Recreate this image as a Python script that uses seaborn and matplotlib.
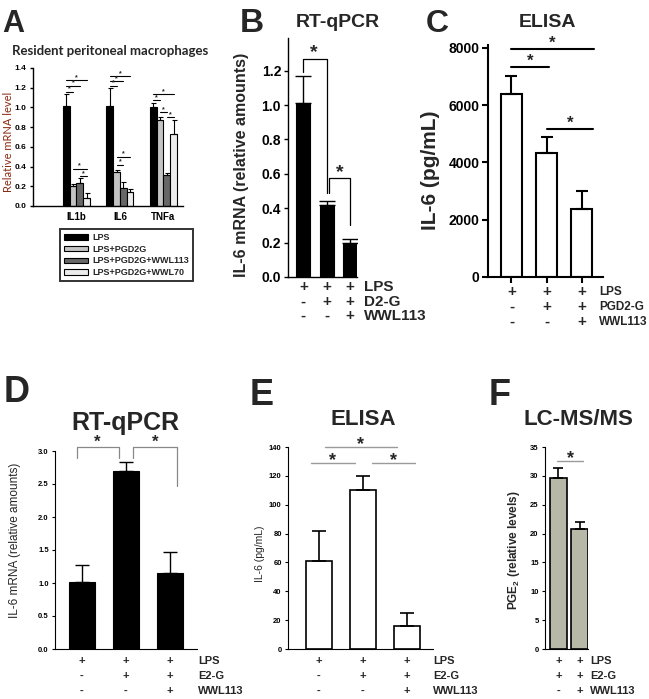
import matplotlib
matplotlib.use("Agg")
import matplotlib.pyplot as plt
import numpy as np
import pandas as pd
import seaborn as sns

W, H = 649, 699

# Panel A: resident peritoneal macrophages
A_GENES = ["IL1b", "IL6", "TNFa"]
A_TREATMENTS = ["LPS", "LPS+PGD2G", "LPS+PGD2G+WWL113", "LPS+PGD2G+WWL70"]
A_LPS = [1.01, 1.01, 1.00]
A_PGD2G = [0.20, 0.35, 0.87]
A_WWL113 = [0.23, 0.18, 0.31]
A_WWL70 = [0.08, 0.14, 0.73]
A_LPS_ERR = [0.13, 0.19, 0.05]
A_PGD2G_ERR = [0.02, 0.02, 0.03]
A_WWL113_ERR = [0.05, 0.06, 0.02]
A_WWL70_ERR = [0.05, 0.03, 0.14]
A_COLORS = ["#000000", "#c4c4c4", "#676767", "#ececec"]
# (bar i, bar j, height) per gene
A_SIG = [
    [(0, 1, 1.16), (0, 2, 1.22), (0, 3, 1.28), (2, 3, 0.30), (1, 3, 0.38)],
    [(0, 1, 1.22), (0, 2, 1.27), (0, 3, 1.32), (1, 2, 0.42), (1, 3, 0.50)],
    [(0, 1, 1.075), (0, 3, 1.135), (1, 2, 0.95), (2, 3, 0.90)],
]

# Panel B: RT-qPCR
B_MEANS = [1.01, 0.42, 0.20]
B_ERR = [0.16, 0.02, 0.02]
B_LPS = ["+", "+", "+"]
B_D2G = ["-", "+", "+"]
B_WWL = ["-", "-", "+"]
B_ROW_LABELS = ["LPS", "D2-G", "WWL113"]

# Panel C: ELISA
C_MEANS = [6380, 4330, 2380]
C_ERR = [650, 570, 620]
C_LPS = ["+", "+", "+"]
C_PGD2G = ["-", "+", "+"]
C_WWL = ["-", "-", "+"]
C_ROW_LABELS = ["LPS", "PGD2-G", "WWL113"]
C_SIG = [(0, 2.34, 7950), (0, 1.07, 7330), (1.0, 2.33, 5150)]

# Panel D: RT-qPCR
D_MEANS = [1.02, 2.69, 1.15]
D_ERR = [0.26, 0.14, 0.32]
D_LPS = ["+", "+", "+"]
D_E2G = ["-", "+", "+"]
D_WWL = ["-", "-", "+"]
D_ROW_LABELS = ["LPS", "E2-G", "WWL113"]

# Panel E: ELISA
E_MEANS = [61, 110, 16]
E_ERR = [21, 10, 9]
E_SIG = [(0.14, 1.77, 140), (-0.18, 0.82, 129), (1.2, 2.18, 129)]

# Panel F: LC-MS/MS
F_MEANS = [29.7, 20.8]
F_ERR = [1.6, 1.2]
F_LPS = ["+", "+"]
F_E2G = ["+", "+"]
F_WWL = ["-", "+"]

FONT = ["Liberation Sans", "DejaVu Sans"]


def add_ax(fig, left, top, right, bottom):
    ax = fig.add_axes([left / W, 1 - bottom / H, (right - left) / W, (bottom - top) / H])
    ax.px_box = (left, top, right, bottom)
    return ax


def ftext(fig, x, y, s, **kw):
    fig.text(x / W, 1 - y / H, s, **kw)


def style_axis(ax, lw, tick_fs, tick_len=3):
    sns.despine(ax=ax)
    for side in ["left", "bottom"]:
        ax.spines[side].set_linewidth(lw)
    ax.tick_params(axis="y", labelsize=tick_fs, width=lw, length=tick_len, pad=2)
    for lab in ax.get_yticklabels():
        lab.set_fontweight("bold")
    ax.set_xlabel("")


def bar_panel(ax, means, err, color, edge, width, lw, cap, elw):
    labels = [str(i) for i in range(len(means))]
    sns.barplot(x=labels, y=means, color=color, edgecolor=edge, linewidth=lw,
                width=width, errorbar=None, saturation=1, ax=ax)
    ax.errorbar(range(len(means)), means, yerr=[np.zeros(len(err)), err], fmt="none",
                ecolor="black", elinewidth=elw, capsize=cap, capthick=elw, zorder=1)


def sign_rows(ax, rows, labels, row_ys, label_x, fs, label_fs=None):
    left, top, right, bottom = ax.px_box
    label_fs = label_fs or fs
    for signs, label, ry in zip(rows, labels, row_ys):
        yy = (bottom - ry) / (bottom - top)
        for i, s in enumerate(signs):
            ax.text(i, yy, s, transform=ax.get_xaxis_transform(), ha="center", va="center",
                    fontsize=fs, fontweight="bold", clip_on=False)
        if label:
            ax.text((label_x - left) / (right - left), yy, label, transform=ax.transAxes,
                    ha="left", va="center", fontsize=label_fs, fontweight="bold", clip_on=False)


def sig_line(ax, x1, x2, y, color="black", lw=1.0, fs=10, dy=0):
    ax.plot([x1, x2], [y, y], color=color, lw=lw, clip_on=False)
    ax.text((x1 + x2) / 2, y + dy, "*", ha="center", va="bottom", fontsize=fs,
            fontweight="bold", clip_on=False)


def panel_a(fig):
    ax = add_ax(fig, 33, 68, 183, 206)
    rows = []
    for t, vals in zip(A_TREATMENTS, [A_LPS, A_PGD2G, A_WWL113, A_WWL70]):
        for g, v in zip(A_GENES, vals):
            rows.append({"gene": g, "treatment": t, "value": v})
    df = pd.DataFrame(rows)
    sns.barplot(data=df, x="gene", y="value", hue="treatment", hue_order=A_TREATMENTS,
                palette=A_COLORS, edgecolor="black", linewidth=0.8, width=0.62,
                errorbar=None, saturation=1, ax=ax)
    centers = []
    for cont, errs in zip(ax.containers, [A_LPS_ERR, A_PGD2G_ERR, A_WWL113_ERR, A_WWL70_ERR]):
        xs = [b.get_x() + b.get_width() / 2 for b in cont]
        ys = [b.get_height() for b in cont]
        centers.append(xs)
        ax.errorbar(xs, ys, yerr=[np.zeros(3), errs], fmt="none", ecolor="black",
                    elinewidth=0.8, capsize=1.8, capthick=0.8, zorder=1)
    for g, sigs in enumerate(A_SIG):
        for i, j, h in sigs:
            sig_line(ax, centers[i][g], centers[j][g], h, lw=0.8, fs=5, dy=-0.01)
    ax.set_ylim(0, 1.4)
    ax.set_xlim(-1.0, 2.45)
    ax.set_yticks(np.arange(0, 1.41, 0.2))
    ax.set_yticklabels([f"{v:.1f}" for v in np.arange(0, 1.41, 0.2)])
    style_axis(ax, 1.0, 6, 2.5)
    ax.tick_params(axis="x", length=0, labelsize=7, pad=4)
    for lab in ax.get_xticklabels():
        lab.set_fontweight("bold")
    ax.set_ylabel("")
    ftext(fig, 9, 142, "Relative mRNA level", fontsize=8, color="#8b2a10", family="Lato",
          rotation=90, ha="center", va="center")
    handles, labels = ax.get_legend_handles_labels()
    leg = ax.legend(handles, labels, loc="upper left", bbox_to_anchor=(60 / W, 1 - 229 / H),
                    bbox_transform=fig.transFigure, frameon=True, fancybox=False,
                    edgecolor="black", prop={"weight": "bold", "size": 6.5},
                    handlelength=2.6, handleheight=0.55, labelspacing=0.3, borderpad=0.45,
                    handletextpad=0.5, borderaxespad=0)
    leg.get_frame().set_linewidth(1.4)
    ftext(fig, 12, 55, "Resident peritoneal macrophages", fontsize=9.5, fontweight="bold",
          family="Lato")
    ftext(fig, 2, 32, "A", fontsize=22, fontweight="bold")


def panel_b(fig):
    ax = add_ax(fig, 288, 38, 357, 277)
    bar_panel(ax, B_MEANS, B_ERR, "black", "black", 0.6, 0.8, 5.5, 1.0)
    ax.set_ylim(0, 1.39)
    ax.set_xlim(-0.66, 2.3)
    ax.set_yticks(np.arange(0, 1.21, 0.2))
    ax.set_yticklabels([f"{v:.1f}" for v in np.arange(0, 1.21, 0.2)])
    style_axis(ax, 1.0, 10, 3)
    ax.tick_params(axis="x", length=0, labelbottom=False)
    # brackets
    ax.plot([0, 0, 1, 1], [1.19, 1.27, 1.27, 0.49], color="black", lw=0.9, clip_on=False)
    ax.text(0.45, 1.255, "*", ha="center", va="bottom", fontsize=14, fontweight="bold")
    ax.plot([1.08, 1.08, 2, 2], [0.49, 0.575, 0.575, 0.30], color="black", lw=0.9, clip_on=False)
    ax.text(1.55, 0.56, "*", ha="center", va="bottom", fontsize=14, fontweight="bold")
    ax.set_ylabel("IL-6 mRNA (relative amounts)", fontsize=11.5, fontweight="bold")
    ax.yaxis.set_label_coords(-0.57, 0.47)
    sign_rows(ax, [B_LPS, B_D2G, B_WWL], B_ROW_LABELS, [287, 302, 316], 364, 11)
    ftext(fig, 338, 27, "RT-qPCR", fontsize=14, fontweight="bold", ha="center")
    ftext(fig, 240, 32, "B", fontsize=24, fontweight="bold")


def panel_c(fig):
    ax = add_ax(fig, 488, 45, 603, 277)
    bar_panel(ax, C_MEANS, C_ERR, "white", "black", 0.6, 1.5, 4.5, 1.5)
    ax.set_ylim(0, 8100)
    ax.set_xlim(-0.67, 2.61)
    ax.set_yticks([0, 2000, 4000, 6000, 8000])
    style_axis(ax, 1.5, 10, 4)
    ax.tick_params(axis="x", length=4, width=1.5, labelbottom=False)
    for x1, x2, y in C_SIG:
        sig_line(ax, x1, x2, y, lw=1.5, fs=12, dy=-60)
    ax.set_ylabel("IL-6 (pg/mL)", fontsize=15, fontweight="bold")
    ax.yaxis.set_label_coords(-0.42, 0.46)
    sign_rows(ax, [C_LPS, C_PGD2G, C_WWL], C_ROW_LABELS, [292, 307, 322], 599, 11, 8.5)
    ftext(fig, 547, 27, "ELISA", fontsize=14, fontweight="bold", ha="center")
    ftext(fig, 426, 32, "C", fontsize=23, fontweight="bold")


def panel_d(fig):
    ax = add_ax(fig, 55, 451, 197, 649)
    bar_panel(ax, D_MEANS, D_ERR, "black", "black", 0.59, 0.8, 5, 1.0)
    ax.set_ylim(0, 3.0)
    ax.set_xlim(-0.61, 2.62)
    ax.set_yticks(np.arange(0, 3.01, 0.5))
    ax.set_yticklabels([f"{v:.1f}" for v in np.arange(0, 3.01, 0.5)])
    style_axis(ax, 0.8, 5.5, 2.5)
    ax.tick_params(axis="x", length=0, labelbottom=False)
    ax.plot([-0.11, -0.11, 0.84, 0.84], [2.9, 3.06, 3.06, 2.9], color="#888888", lw=0.9, clip_on=False)
    ax.text(0.36, 3.02, "*", ha="center", va="bottom", fontsize=12, fontweight="bold")
    ax.plot([1.16, 1.16, 2.16, 2.16], [2.9, 3.06, 3.06, 2.47], color="#888888", lw=0.9, clip_on=False)
    ax.text(1.66, 3.02, "*", ha="center", va="bottom", fontsize=12, fontweight="bold")
    ax.set_ylabel("IL-6 mRNA (relative amounts)", fontsize=8.5)
    ax.yaxis.set_label_coords(-0.24, 0.55)
    sign_rows(ax, [D_LPS, D_E2G, D_WWL], D_ROW_LABELS, [661, 676, 691], 198, 8)
    ftext(fig, 125, 430, "RT-qPCR", fontsize=18, fontweight="bold", ha="center")
    ftext(fig, 4, 402, "D", fontsize=26, fontweight="bold")


def panel_e(fig):
    ax = add_ax(fig, 288, 447, 433, 649)
    bar_panel(ax, E_MEANS, E_ERR, "white", "black", 0.59, 1.2, 5, 1.2)
    ax.set_ylim(0, 140)
    ax.set_xlim(-0.70, 2.59)
    ax.set_yticks(np.arange(0, 141, 20))
    style_axis(ax, 0.8, 5.5, 2.5)
    ax.tick_params(axis="x", length=0, labelbottom=False)
    for x1, x2, y in E_SIG:
        sig_line(ax, x1, x2, y, color="#9a9a9a", lw=1.0, fs=13, dy=-4)
    ax.set_ylabel("IL-6 (pg/mL)", fontsize=7.5)
    ax.yaxis.set_label_coords(-0.16, 0.47)
    sign_rows(ax, [D_LPS, D_E2G, D_WWL], D_ROW_LABELS, [661, 676, 691], 433, 8)
    ftext(fig, 363, 425, "ELISA", fontsize=16, fontweight="bold", ha="center")
    ftext(fig, 250, 405, "E", fontsize=26, fontweight="bold")


def panel_f(fig):
    ax = add_ax(fig, 545, 447, 588, 649)
    bar_panel(ax, F_MEANS, F_ERR, "#b8b8a8", "black", 0.81, 1.2, 3.5, 1.2)
    ax.set_ylim(0, 35)
    ax.set_xlim(-0.64, 1.40)
    ax.set_yticks(np.arange(0, 36, 5))
    style_axis(ax, 0.8, 5.5, 2.5)
    ax.tick_params(axis="x", length=0, labelbottom=False)
    sig_line(ax, -0.07, 1.17, 32.5, color="#9a9a9a", lw=1.0, fs=13, dy=-1)
    ax.set_ylabel(r"PGE$_{\mathbf{2}}$ (relative levels)", fontsize=8.5, fontweight="bold")
    ax.yaxis.set_label_coords(-0.53, 0.49)
    sign_rows(ax, [F_LPS, F_E2G, F_WWL], D_ROW_LABELS, [661, 676, 691], 590, 8)
    ftext(fig, 578, 425, "LC-MS/MS", fontsize=16, fontweight="bold", ha="center")
    ftext(fig, 489, 405, "F", fontsize=26, fontweight="bold")


def main() -> None:
    sns.set_theme(style="ticks")
    plt.rcParams["font.family"] = FONT
    plt.rcParams["mathtext.fontset"] = "custom"
    plt.rcParams["mathtext.bf"] = "Liberation Sans:bold"
    plt.rcParams["mathtext.rm"] = "Liberation Sans"
    plt.rcParams["axes.edgecolor"] = "black"
    plt.rcParams["xtick.color"] = "black"
    plt.rcParams["ytick.color"] = "black"

    fig = plt.figure(figsize=(W / 100, H / 100), dpi=100)
    panel_a(fig)
    panel_b(fig)
    panel_c(fig)
    panel_d(fig)
    panel_e(fig)
    panel_f(fig)
    fig.savefig("out.png", dpi=100)
    plt.close(fig)


if __name__ == "__main__":
    main()
